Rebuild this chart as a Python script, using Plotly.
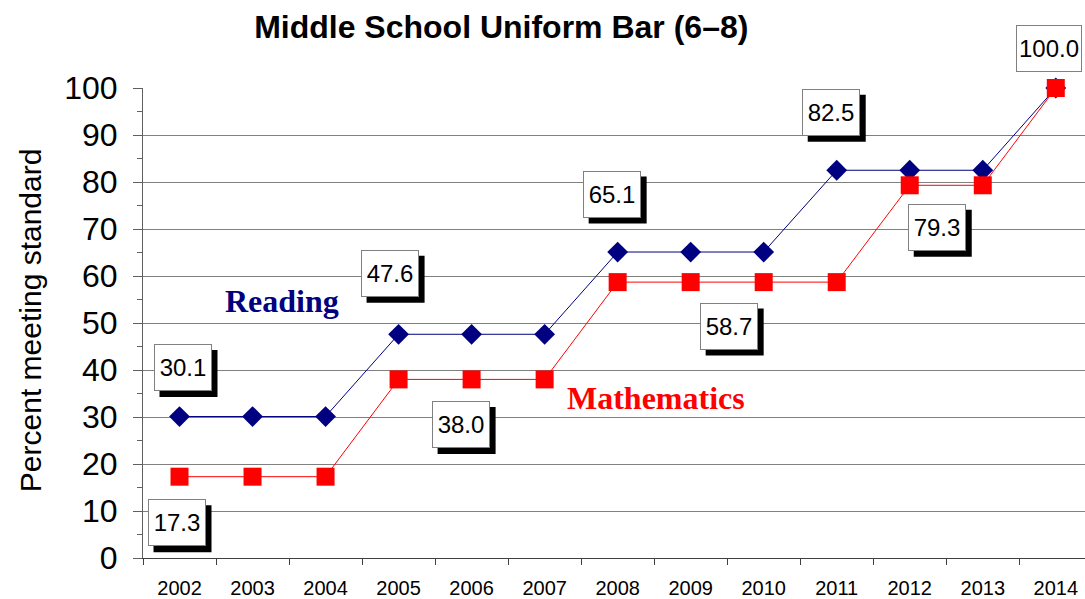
import plotly.graph_objects as go

years = ["2002", "2003", "2004", "2005", "2006", "2007", "2008",
         "2009", "2010", "2011", "2012", "2013", "2014"]
reading = [30.1, 30.1, 30.1, 47.6, 47.6, 47.6, 65.1, 65.1, 65.1, 82.5, 82.5, 82.5, 100.0]
math = [17.3, 17.3, 17.3, 38.0, 38.0, 38.0, 58.7, 58.7, 58.7, 58.7, 79.3, 79.3, 100.0]

# data-label callouts: (year index, x shift px, y shift px)
reading_labels = [(0, 3, 49), (3, -9, 61), (6, -6, 58), (9, -6, 58), (12, -7, 40)]
math_labels = [(0, -3, -46), (4, -11, -45), (7, 38, -44), (10, 27, -42)]

fig = go.Figure()
fig.add_trace(go.Scatter(
    x=years, y=reading, mode="lines+markers", name="Reading",
    line=dict(color="#000080", width=1),
    marker=dict(symbol="diamond", size=16, color="#000080"),
    cliponaxis=False))
fig.add_trace(go.Scatter(
    x=years, y=math, mode="lines+markers", name="Mathematics",
    line=dict(color="#FF0000", width=1),
    marker=dict(symbol="square", size=18, color="#FF0000"),
    cliponaxis=False))

def add_callout(series, idx, dx, dy):
    txt = f"{series[idx]:.1f}"
    w = 58 if len(txt) < 5 else 66
    h = 47
    # black drop shadow (pixel-sized shape anchored on the data point)
    fig.add_shape(type="rect", layer="above",
                  xref="x", xsizemode="pixel", xanchor=idx,
                  x0=dx + 6 - w / 2, x1=dx + 6 + w / 2,
                  yref="y", ysizemode="pixel", yanchor=series[idx],
                  y0=dy - 6 - h / 2, y1=dy - 6 + h / 2,
                  fillcolor="black", line=dict(width=0))
    fig.add_annotation(x=idx, y=series[idx], xref="x", yref="y",
                       xanchor="center", yanchor="middle",
                       showarrow=False, text=txt, width=w - 4, height=h - 4,
                       borderpad=1, borderwidth=1,
                       xshift=dx, yshift=dy,
                       bgcolor="white", bordercolor="#808080",
                       font=dict(family="Arial, Liberation Sans", size=24, color="black"))

for i, dx, dy in reading_labels:
    add_callout(reading, i, dx, dy)
for i, dx, dy in math_labels:
    add_callout(math, i, dx, dy)

fig.add_annotation(x=0.1476, y=0.547, xref="paper", yref="paper", showarrow=False,
                   xanchor="center", yanchor="middle",
                   text="<b>Reading</b>",
                   font=dict(family="Liberation Serif, Times New Roman", size=32, color="#000080"))
fig.add_annotation(x=0.5446, y=0.340, xref="paper", yref="paper", showarrow=False,
                   xanchor="center", yanchor="middle",
                   text="<b>Mathematics</b>",
                   font=dict(family="Liberation Serif, Times New Roman", size=32, color="#FF0000"))
fig.add_annotation(x=-0.12, y=0.506, xref="paper", yref="paper", showarrow=False,
                   xanchor="center", yanchor="middle",
                   text="Percent meeting standard", textangle=-90,
                   font=dict(family="Arial, Liberation Sans", size=30, color="black"))

fig.update_layout(
    width=1085, height=599,
    margin=dict(l=143, r=0, t=88, b=41),
    paper_bgcolor="white", plot_bgcolor="white",
    showlegend=False,
    title=dict(text="<b>Middle School Uniform Bar (6–8)</b>",
               x=0.462, xref="container", xanchor="center",
               y=0.955, yref="container", yanchor="middle",
               font=dict(family="Arial, Liberation Sans", size=32, color="black")),
    font=dict(family="Arial, Liberation Sans", color="black"),
)
fig.update_xaxes(
    type="category", range=[-0.5, 12.4], automargin=False,
    showgrid=False, showline=True, linecolor="#404040", linewidth=1,
    ticks="outside", tickson="boundaries", ticklen=6, tickcolor="#404040",
    ticklabelstandoff=12,
    tickfont=dict(size=20), zeroline=False)
fig.update_yaxes(
    range=[0, 100], dtick=10, tick0=0, automargin=False,
    showgrid=True, gridcolor="#808080", gridwidth=1,
    showline=True, linecolor="#606060", linewidth=1,
    ticks="outside", ticklen=9, tickcolor="#606060",
    ticklabelstandoff=9,
    tickfont=dict(size=32),
    minor=dict(dtick=5, ticks="outside", ticklen=5, tickcolor="#606060", showgrid=False),
    zeroline=False)

fig.write_html("out.html", config={"displayModeBar": False},
               post_script="document.body.style.margin='0';")
